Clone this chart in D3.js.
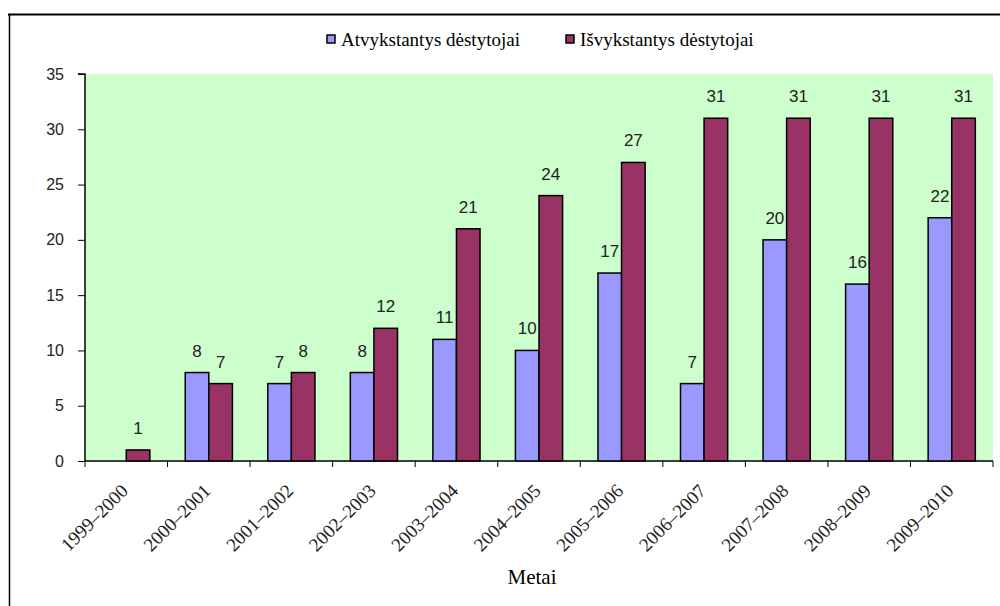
<!DOCTYPE html>
<html><head><meta charset="utf-8">
<script src="https://cdn.jsdelivr.net/npm/d3@7"></script>
<style>body{margin:0;background:#fff}</style>
</head><body>
<svg id="c" width="1000" height="606"></svg>
<script>
const categories = ["1999–2000","2000–2001","2001–2002","2002–2003","2003–2004","2004–2005","2005–2006","2006–2007","2007–2008","2008–2009","2009–2010"];
const seriesNames = ["Atvykstantys dėstytojai","Išvykstantys dėstytojai"];
const arriving = [null,8,7,8,11,10,17,7,20,16,22];
const leaving = [1,7,8,12,21,24,27,31,31,31,31];
const yTicks = [0,5,10,15,20,25,30,35];
const colors = ["#9999FF","#993366"];
const axisTitle = "Metai";

const svg = d3.select("#c");
const serif = "'Liberation Serif', serif";
const sans = "'Liberation Sans', sans-serif";
const L=85, R=993, T=74, B=461;

// outer border
svg.append("line").attr("x1",8).attr("x2",1000).attr("y1",14.5).attr("y2",14.5).attr("stroke","#000").attr("stroke-width",2);
svg.append("line").attr("x1",9.5).attr("x2",9.5).attr("y1",14).attr("y2",606).attr("stroke","#000").attr("stroke-width",1.5);

svg.append("rect").attr("x",L).attr("y",T).attr("width",R-L).attr("height",B-T).attr("fill","#CCFFCC");

const x = d3.scaleBand().domain(categories).range([L,R]).paddingInner(0).paddingOuter(0);
const y = d3.scaleLinear().domain([0,35]).range([B,T]);
const bw = x.bandwidth()/3.5;
const off = x.bandwidth()*0.75/3.5;

// y axis
const ya = svg.append("g").attr("transform",`translate(${L},0)`)
  .call(d3.axisLeft(y).tickValues(yTicks).tickSize(7).tickPadding(14));
ya.select(".domain").attr("d",`M-7,${T}H0V${B}`).attr("stroke","#000").attr("stroke-width",1.5);
ya.selectAll(".tick line").attr("stroke","#000");
ya.selectAll(".tick text").attr("font-family",sans).attr("font-size",16).attr("fill","#222");

// x axis
const xa = svg.append("g").attr("transform",`translate(0,${B})`)
  .call(d3.axisBottom(x).tickSize(0).tickFormat(""));
xa.select(".domain").attr("d",`M${L},0H${R}`).attr("stroke","#000").attr("stroke-width",1.5);
const tickPos = d3.range(categories.length+1).map(i=>L+i*x.bandwidth());
svg.selectAll(".xt").data(tickPos).enter().append("line")
  .attr("x1",d=>d).attr("x2",d=>d).attr("y1",B).attr("y2",B+6).attr("stroke","#000").attr("stroke-width",1);

svg.selectAll(".xl").data(categories).enter().append("text")
  .attr("transform",d=>`translate(${x(d)+x.bandwidth()/2+3},${B+31}) rotate(-45)`)
  .attr("text-anchor","end").attr("font-family",serif).attr("font-size",19).attr("fill","#222")
  .text(d=>d);

const series=[arriving,leaving];
series.forEach((vals,si)=>{
  const g=svg.append("g");
  const data=categories.map((c,i)=>({c,v:vals[i]})).filter(d=>d.v!=null);
  g.selectAll("rect").data(data).enter().append("rect")
    .attr("x",d=>x(d.c)+off+si*bw).attr("width",bw)
    .attr("y",d=>y(d.v)).attr("height",d=>B-y(d.v))
    .attr("fill",colors[si]).attr("stroke","#000").attr("stroke-width",1.5);
  g.selectAll("text").data(data).enter().append("text")
    .attr("x",d=>x(d.c)+off+si*bw+bw/2).attr("y",d=>y(d.v)-16)
    .attr("text-anchor","middle").attr("font-family",sans).attr("font-size",17).attr("fill","#222")
    .text(d=>d.v);
});

// legend
const leg=[{x:327,t:seriesNames[0],c:colors[0]},{x:566,t:seriesNames[1],c:colors[1]}];
leg.forEach(l=>{
  svg.append("rect").attr("x",l.x).attr("y",35).attr("width",8).attr("height",8).attr("fill",l.c).attr("stroke","#000").attr("stroke-width",1.5);
  svg.append("text").attr("x",l.x+14).attr("y",46).attr("font-family",serif).attr("font-size",19).attr("fill","#000").text(l.t);
});

svg.append("text").attr("x",532).attr("y",584).attr("text-anchor","middle").attr("font-family",serif).attr("font-size",21).attr("fill","#000").text(axisTitle);
</script>
</body></html>
